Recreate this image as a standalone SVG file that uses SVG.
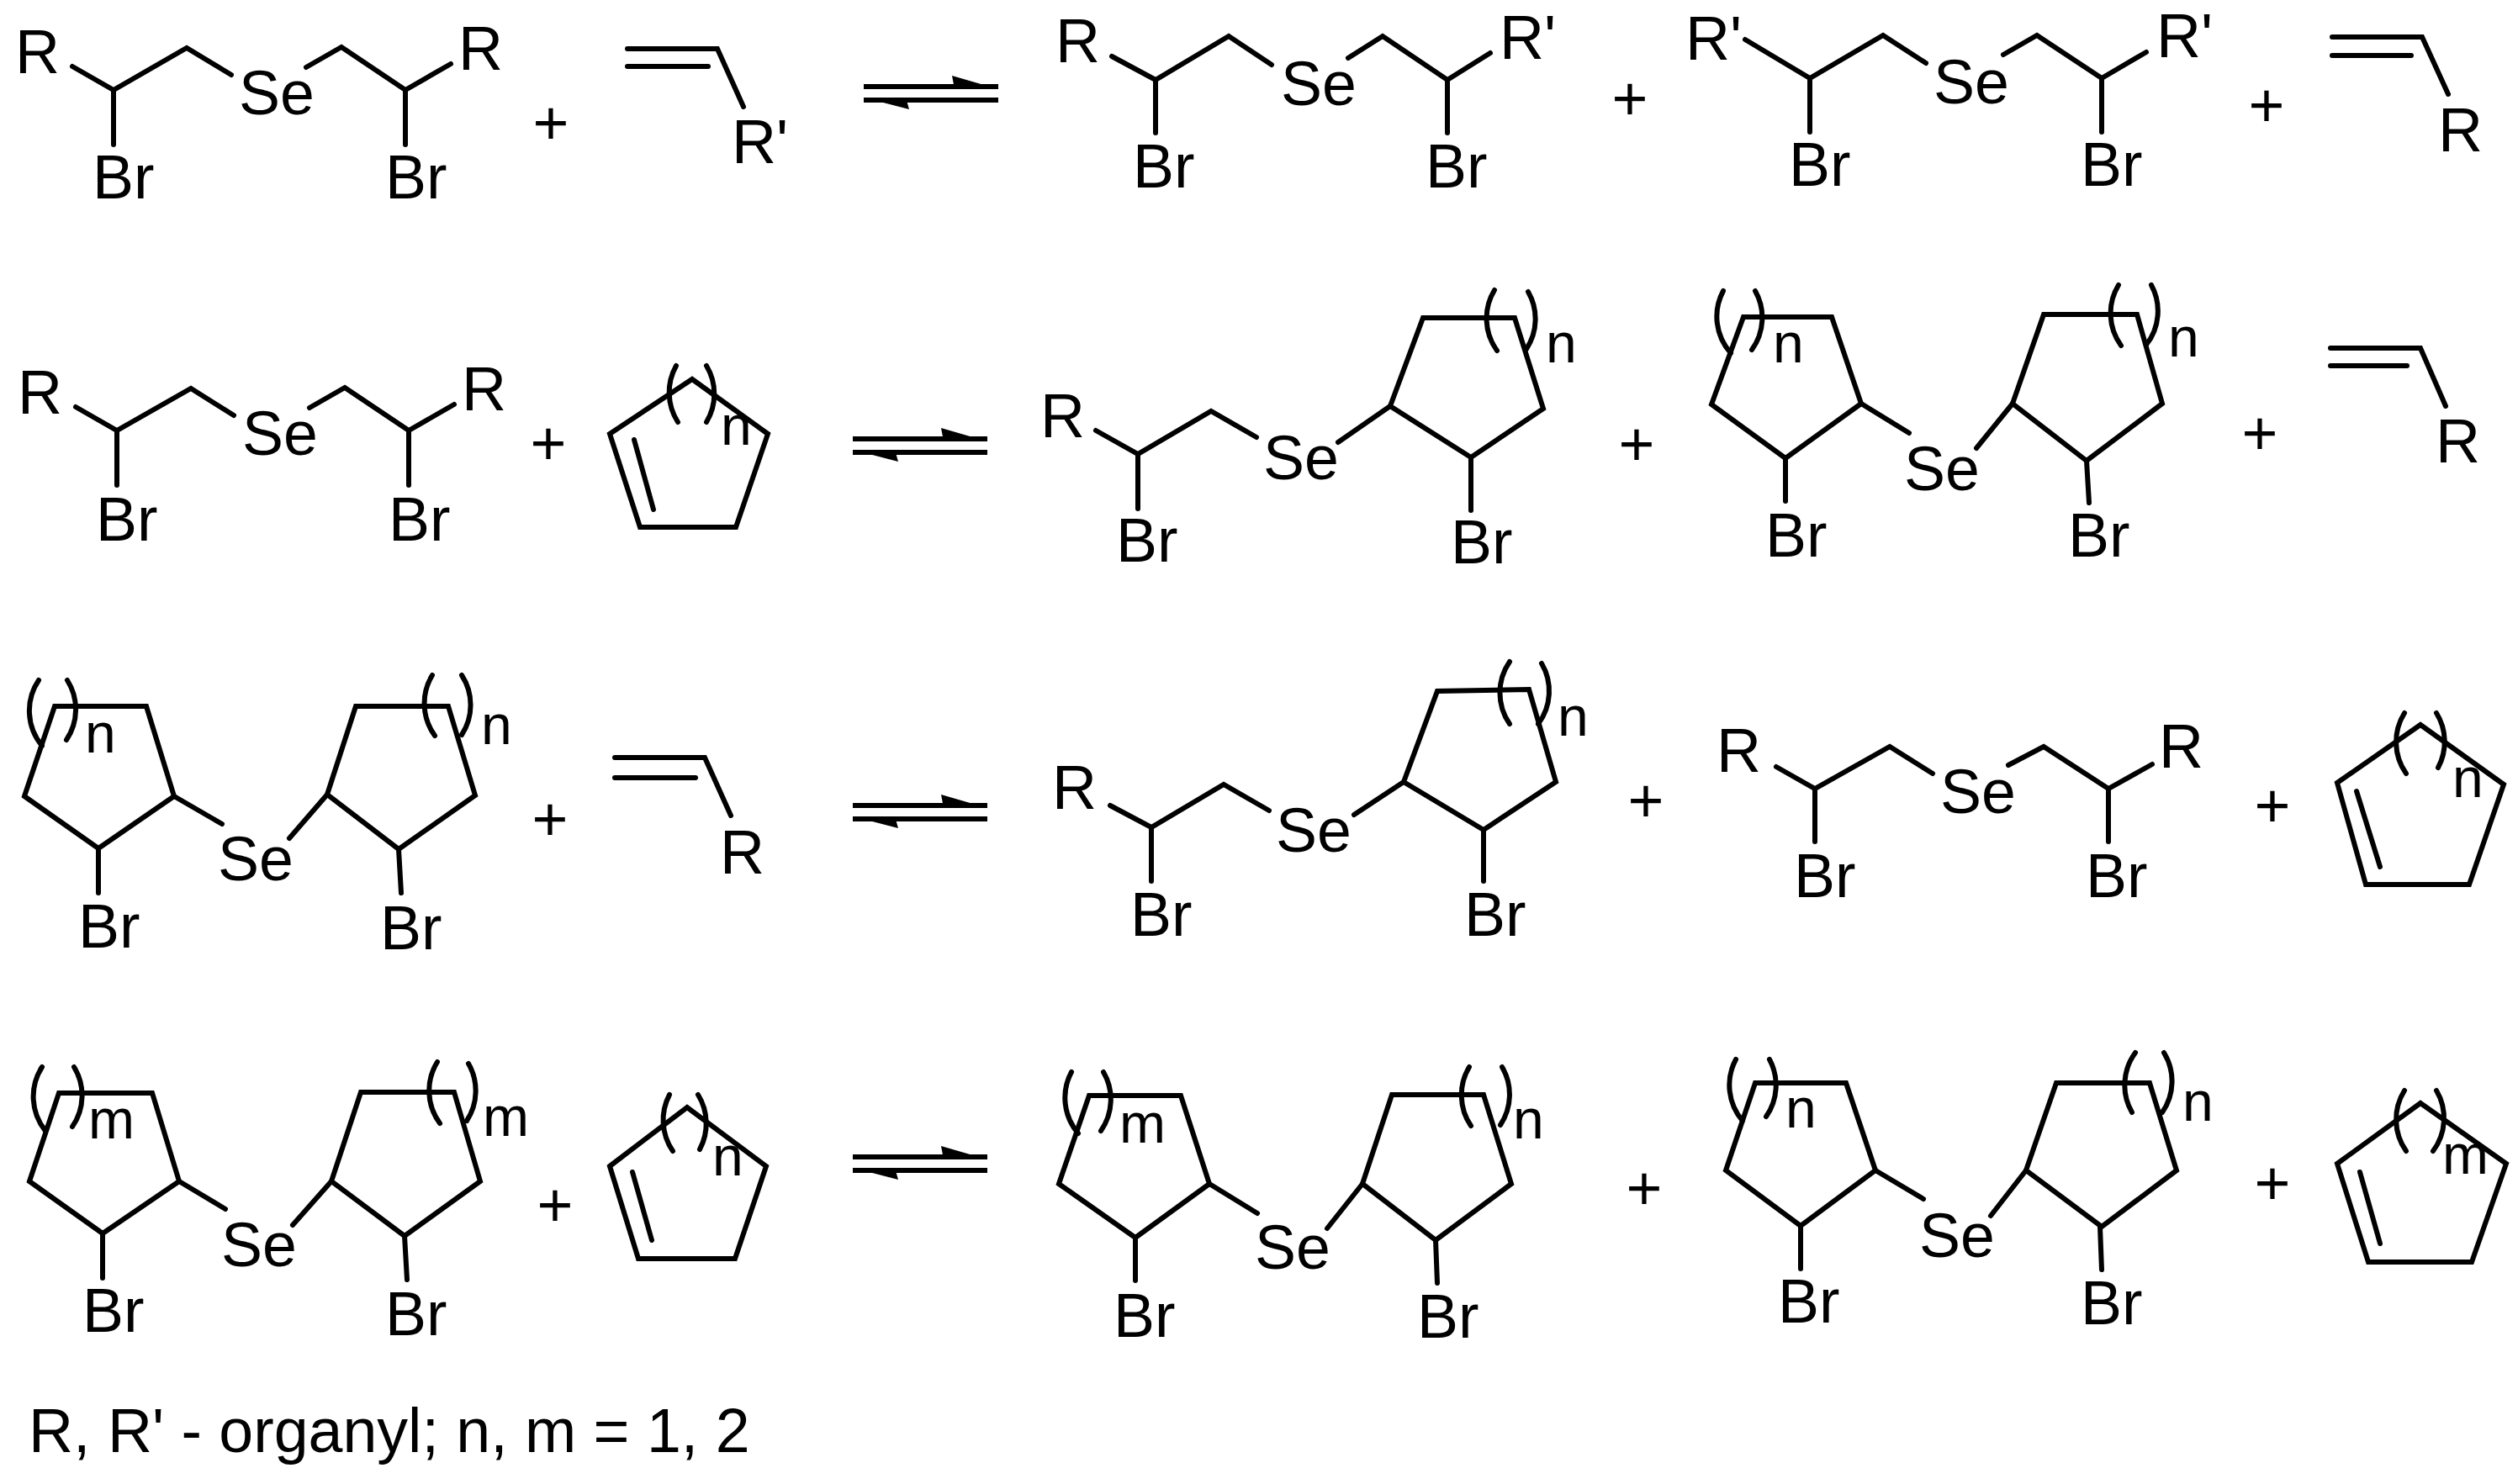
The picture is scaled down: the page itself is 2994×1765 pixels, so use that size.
<svg xmlns="http://www.w3.org/2000/svg" width="2994" height="1765" viewBox="0 0 2994 1765">
<style>
text{font-family:"Liberation Sans",Arial,sans-serif;font-size:73.5px;fill:#000}
.s{font-size:66px}
.p{text-anchor:middle}
path,polyline,line,.r{fill:none;stroke:#000;stroke-width:6;stroke-linejoin:miter;stroke-linecap:round}
.eql{stroke-linecap:butt}
.eqh{fill:#000;stroke:none}
</style>
<defs>
<g id="eq">
<line class="eql" x1="0" y1="0" x2="160" y2="0"/>
<line class="eql" x1="0" y1="16" x2="160" y2="16"/>
<polygon class="eqh" points="160,3 105,-13 108,3"/>
<polygon class="eqh" points="0,13 54,27 50,13"/>
</g>
</defs>
<rect width="2994" height="1765" fill="#fff"/>
<g id="connectors">
<use href="#eq" x="1027" y="103"/>
<use href="#eq" x="1014" y="522"/>
<use href="#eq" x="1014" y="958"/>
<use href="#eq" x="1014" y="1376"/>
</g>
<g id="plus-signs">
<text class="p" x="655" y="172">+</text>
<text class="p" x="1938" y="143">+</text>
<text class="p" x="2695" y="151">+</text>
<text class="p" x="652" y="553">+</text>
<text class="p" x="1946" y="554">+</text>
<text class="p" x="2687" y="541">+</text>
<text class="p" x="654" y="1000">+</text>
<text class="p" x="1957" y="978">+</text>
<text class="p" x="2702" y="984">+</text>
<text class="p" x="660" y="1459">+</text>
<text class="p" x="1955" y="1439">+</text>
<text class="p" x="2702" y="1433">+</text>
</g>
<g id="m1a">
<polyline points="86,79 135,107 222,57 275,89"/><line x1="135" y1="107" x2="135" y2="172"/>
<polyline points="364,80 406,56 482,107 536,76"/><line x1="482" y1="107" x2="482" y2="172"/>
<text x="18" y="87">R</text><text x="284" y="136">Se</text><text x="545" y="83">R</text>
<text x="110" y="236">Br</text><text x="458" y="236">Br</text>
</g>
<g id="m1b">
<polyline points="746,58 853,58 884,127"/><line x1="746" y1="79" x2="842" y2="79"/>
<text x="870" y="194">R'</text>
</g>
<g id="m1c">
<polyline points="1322,67 1374,95 1461,43 1512,77"/><line x1="1374" y1="95" x2="1374" y2="158"/>
<polyline points="1603,69 1644,43 1721,95 1772,63"/><line x1="1721" y1="95" x2="1721" y2="158"/>
<text x="1255" y="74">R</text><text x="1523" y="125">Se</text><text x="1783" y="70">R'</text>
<text x="1347" y="223">Br</text><text x="1695" y="223">Br</text>
</g>
<g id="m1d">
<polyline points="2075,47 2152,93 2239,42 2290,75"/><line x1="2152" y1="93" x2="2152" y2="157"/>
<polyline points="2382,65 2422,42 2499,93 2552,62"/><line x1="2499" y1="93" x2="2499" y2="157"/>
<text x="2004" y="71">R'</text><text x="2299" y="123">Se</text><text x="2564" y="68">R'</text>
<text x="2127" y="221">Br</text><text x="2474" y="221">Br</text>
</g>
<g id="m1e">
<polyline points="2773,44 2880,44 2911,112"/><line x1="2773" y1="66" x2="2867" y2="66"/>
<text x="2899" y="180">R</text>
</g>
<g id="m2a">
<polyline points="90,484 139,512 227,462 278,494"/><line x1="139" y1="512" x2="139" y2="577"/>
<polyline points="368,485 410,461 486,512 540,481"/><line x1="486" y1="512" x2="486" y2="577"/>
<text x="21" y="492">R</text><text x="288" y="541">Se</text><text x="549" y="488">R</text>
<text x="114" y="643">Br</text><text x="462" y="643">Br</text>
</g>
<g id="m2b">
<polygon class="r" points="725,516 823,451 913,516 875,627 761,627"/>
<line x1="754" y1="523" x2="777" y2="606"/>
<path d="M804 435A65 65 0 0 0 806 502M840 435A65 65 0 0 1 840 502"/>
<text class="s" x="857" y="529">n</text>
</g>
<g id="m2c">
<polyline points="1303,512 1353,540 1440,489 1494,520"/><line x1="1353" y1="540" x2="1353" y2="605"/>
<polyline points="1591,526 1653,483"/>
<polygon class="r" points="1653,483 1692,378 1801,378 1835,486 1749,544"/>
<line x1="1749" y1="544" x2="1749" y2="607"/>
<path d="M1777 345A65 65 0 0 0 1780 417M1817 347A65 65 0 0 1 1815 415"/>
<text class="s" x="1838" y="431">n</text>
<text x="1237" y="520">R</text><text x="1502" y="570">Se</text>
<text x="1327" y="668">Br</text><text x="1725" y="670">Br</text>
</g>
<g id="m2d">
<polygon class="r" points="2035,481 2073,377 2178,377 2213,480 2123,545"/>
<polyline points="2213,480 2270,515"/><line x1="2123" y1="545" x2="2123" y2="596"/>
<polyline points="2350,533 2393,480"/>
<polygon class="r" points="2393,480 2430,374 2541,374 2571,480 2481,548"/>
<line x1="2481" y1="548" x2="2484" y2="598"/>
<path d="M2049 346A65 65 0 0 0 2058 420M2087 346A65 65 0 0 1 2083 416M2519 339A65 65 0 0 0 2522 411M2558 339A65 65 0 0 1 2552 410"/>
<text class="s" x="2108" y="431">n</text><text class="s" x="2578" y="424">n</text>
<text x="2264" y="583">Se</text><text x="2099" y="662">Br</text><text x="2459" y="662">Br</text>
</g>
<g id="m2e">
<polyline points="2771,414 2878,414 2908,483"/><line x1="2771" y1="435" x2="2862" y2="435"/>
<text x="2896" y="550">R</text>
</g>
<g id="m3a">
<polygon class="r" points="29,947 65,840 174,840 207,947 117,1009"/>
<polyline points="207,947 264,980"/><line x1="117" y1="1009" x2="117" y2="1062"/>
<polyline points="344,997 389,945"/>
<polygon class="r" points="389,945 423,840 533,840 565,946 474,1010"/>
<line x1="474" y1="1010" x2="477" y2="1062"/>
<path d="M46 809A65 65 0 0 0 50 887M80 809A65 65 0 0 1 79 880M514 803A65 65 0 0 0 517 875M549 803A65 65 0 0 1 549 874"/>
<text class="s" x="101" y="895">n</text><text class="s" x="572" y="885">n</text>
<text x="259" y="1047">Se</text><text x="93" y="1127">Br</text><text x="452" y="1129">Br</text>
</g>
<g id="m3b">
<polyline points="731,901 838,901 869,970"/><line x1="731" y1="925" x2="827" y2="925"/>
<text x="856" y="1039">R</text>
</g>
<g id="m3c">
<polyline points="1320,958 1369,984 1455,933 1509,964"/><line x1="1369" y1="984" x2="1369" y2="1048"/>
<polyline points="1610,969 1669,930"/>
<polygon class="r" points="1669,930 1709,822 1818,820 1850,930 1764,987"/>
<line x1="1764" y1="987" x2="1764" y2="1048"/>
<path d="M1795 787A65 65 0 0 0 1795 861M1833 789A65 65 0 0 1 1829 861"/>
<text class="s" x="1852" y="875">n</text>
<text x="1251" y="962">R</text><text x="1517" y="1013">Se</text>
<text x="1344" y="1113">Br</text><text x="1741" y="1113">Br</text>
</g>
<g id="m3d">
<polyline points="2112,912 2158,938 2247,888 2298,920"/><line x1="2158" y1="938" x2="2158" y2="1001"/>
<polyline points="2388,910 2430,888 2507,938 2559,909"/><line x1="2507" y1="938" x2="2507" y2="1001"/>
<text x="2041" y="918">R</text><text x="2307" y="967">Se</text><text x="2567" y="913">R</text>
<text x="2133" y="1067">Br</text><text x="2480" y="1067">Br</text>
</g>
<g id="m3e">
<polygon class="r" points="2779,931 2878,862 2977,933 2936,1052 2813,1052"/>
<line x1="2802" y1="941" x2="2830" y2="1031"/>
<path d="M2859 848A65 65 0 0 0 2861 920M2897 848A65 65 0 0 1 2899 913"/>
<text class="s" x="2916" y="948">n</text>
</g>
<g id="m4a">
<polygon class="r" points="35,1405 70,1300 181,1300 213,1405 122,1467"/>
<polyline points="213,1405 268,1438"/><line x1="122" y1="1467" x2="122" y2="1520"/>
<polyline points="348,1457 394,1405"/>
<polygon class="r" points="394,1405 429,1299 540,1299 571,1405 481,1470"/>
<line x1="481" y1="1470" x2="484" y2="1522"/>
<path d="M50 1269A65 65 0 0 0 54 1345M88 1269A65 65 0 0 1 86 1340M520 1263A65 65 0 0 0 523 1336M557 1265A65 65 0 0 1 555 1333"/>
<text class="s" x="105" y="1354">m</text><text class="s" x="574" y="1351">m</text>
<text x="263" y="1506">Se</text><text x="98" y="1584">Br</text><text x="458" y="1588">Br</text>
</g>
<g id="m4b">
<polygon class="r" points="725,1387 817,1317 911,1387 874,1497 759,1497"/>
<line x1="752" y1="1394" x2="775" y2="1475"/>
<path d="M796 1302A65 65 0 0 0 800 1369M830 1302A65 65 0 0 1 832 1367"/>
<text class="s" x="847" y="1398">n</text>
</g>
<g id="m4c">
<polygon class="r" points="1259,1408 1295,1303 1404,1303 1438,1408 1350,1472"/>
<polyline points="1438,1408 1495,1443"/><line x1="1350" y1="1472" x2="1350" y2="1523"/>
<polyline points="1578,1461 1620,1408"/>
<polygon class="r" points="1620,1408 1655,1302 1764,1302 1797,1408 1707,1475"/>
<line x1="1707" y1="1475" x2="1709" y2="1526"/>
<path d="M1274 1275A65 65 0 0 0 1282 1348M1312 1275A65 65 0 0 1 1309 1345M1747 1269A65 65 0 0 0 1749 1339M1786 1269A65 65 0 0 1 1784 1338"/>
<text class="s" x="1331" y="1359">m</text><text class="s" x="1799" y="1354">n</text>
<text x="1492" y="1509">Se</text><text x="1324" y="1590">Br</text><text x="1685" y="1591">Br</text>
</g>
<g id="m4d">
<polygon class="r" points="2052,1392 2087,1288 2195,1288 2230,1392 2141,1458"/>
<polyline points="2230,1392 2287,1426"/><line x1="2141" y1="1458" x2="2141" y2="1509"/>
<polyline points="2367,1446 2409,1392"/>
<polygon class="r" points="2409,1392 2445,1288 2556,1288 2588,1392 2499,1459"/>
<line x1="2497" y1="1459" x2="2499" y2="1510"/>
<path d="M2064 1260A65 65 0 0 0 2072 1333M2104 1260A65 65 0 0 1 2100 1328M2539 1252A65 65 0 0 0 2535 1323M2573 1252A65 65 0 0 1 2571 1323"/>
<text class="s" x="2123" y="1341">n</text><text class="s" x="2595" y="1333">n</text>
<text x="2282" y="1495">Se</text><text x="2114" y="1573">Br</text><text x="2474" y="1575">Br</text>
</g>
<g id="m4e">
<polygon class="r" points="2779,1384 2878,1312 2980,1384 2939,1501 2816,1501"/>
<line x1="2806" y1="1394" x2="2830" y2="1479"/>
<path d="M2859 1297A65 65 0 0 0 2861 1369M2897 1297A65 65 0 0 1 2893 1369"/>
<text class="s" x="2904" y="1396">m</text>
</g>
<text id="legend" x="34" y="1727">R, R' - organyl; n, m = 1, 2</text>
</svg>
